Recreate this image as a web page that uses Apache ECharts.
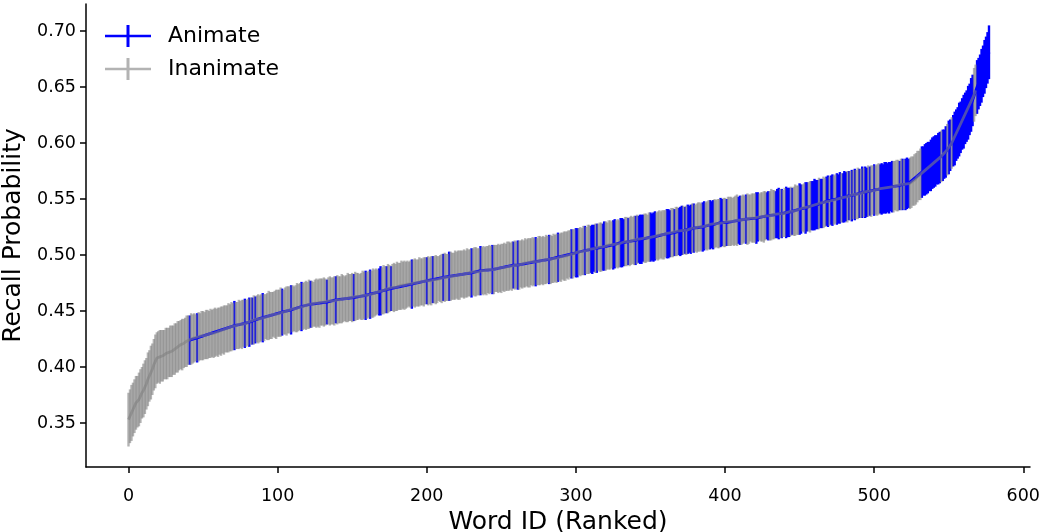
<!DOCTYPE html>
<html>
<head>
<meta charset="utf-8">
<script src="https://cdn.jsdelivr.net/npm/echarts@6/dist/echarts.min.js"></script>
<style>
  body { margin: 0; background: #fff; }
  #chart { width: 1050px; height: 532px; }
</style>
</head>
<body>
<div id="chart"></div>
<script>
  // mean recall probability per ranked word, in thousandths (rank 0..577)
  var recallMilli = [
    353,356,359,362,365,368,369,371,374,377,379,382,385,389,392,395,398,402,405,408,
    409,409,410,410,411,412,412,413,414,414,415,416,417,418,419,420,420,421,422,423,
    424,424,425,425,426,426,426,427,427,428,428,428,429,429,429,430,430,430,431,431,
    431,432,432,433,433,434,434,435,435,436,436,437,437,437,438,438,438,439,439,439,
    440,440,441,441,442,442,443,443,443,444,444,444,445,445,446,446,446,447,447,447,
    448,448,449,449,449,450,450,451,451,451,452,452,452,453,453,454,454,454,455,455,
    455,456,456,456,456,457,457,457,457,458,458,458,458,458,459,459,459,459,459,460,
    460,460,460,461,461,461,461,462,462,462,462,462,463,463,463,463,463,464,464,464,
    464,465,465,465,466,466,467,467,467,468,468,469,469,469,470,470,470,471,471,471,
    472,472,472,473,473,473,473,474,474,474,474,475,475,475,475,476,476,476,476,477,
    477,477,477,477,478,478,478,478,479,479,479,480,480,480,480,481,481,481,481,482,
    482,482,482,483,483,483,483,484,484,484,484,485,485,485,485,485,486,486,486,486,
    486,487,487,487,487,487,488,488,488,488,488,489,489,489,490,490,490,490,491,491,
    491,491,491,492,492,492,493,493,493,493,494,494,494,494,494,495,495,495,495,495,
    496,496,496,496,496,497,497,497,498,498,498,499,499,499,500,500,501,501,501,502,
    502,502,503,503,503,504,504,504,505,505,505,505,506,506,506,507,507,507,507,508,
    508,508,509,509,509,509,510,510,510,510,511,511,511,512,512,512,512,513,513,513,
    513,514,514,514,514,515,515,515,515,516,516,516,516,517,517,517,518,518,518,518,
    519,519,519,519,520,520,520,521,521,521,521,522,522,522,522,523,523,523,524,524,
    524,524,525,525,525,525,526,526,526,527,527,527,527,528,528,528,528,529,529,529,
    529,529,530,530,530,530,530,531,531,531,531,531,532,532,532,532,532,533,533,533,
    533,533,534,534,534,534,534,535,535,535,535,536,536,536,536,537,537,537,537,537,
    538,538,538,538,539,539,539,540,540,540,541,541,542,542,542,543,543,543,544,544,
    545,545,545,546,546,546,547,547,548,548,548,549,549,549,550,550,550,551,551,551,
    552,552,552,553,553,553,554,554,554,555,555,555,556,556,556,556,557,557,557,558,
    558,558,558,559,559,559,559,560,560,560,560,561,561,561,562,562,562,562,563,563,
    563,563,564,564,564,565,566,567,568,570,571,572,574,575,576,577,578,579,580,582,
    583,584,585,586,587,588,589,590,592,594,596,598,600,602,604,607,609,612,614,617,
    619,622,624,627,630,634,638,643,647,650,653,656,660,664,668,672,676,681
  ];

  // half length of each error bar, in thousandths
  var errMilli = [
    24,24,25,24,24,24,23,24,24,23,24,24,23,24,23,24,23,23,24,23,
    23,24,23,23,22,23,23,22,23,23,22,23,22,23,22,22,23,22,22,23,
    22,22,23,22,22,21,22,22,21,22,22,21,22,22,21,22,21,22,22,21,
    22,21,22,21,22,21,21,22,21,22,21,22,21,21,22,21,22,21,22,21,
    21,22,21,21,22,21,21,22,21,21,22,21,20,21,22,21,21,20,21,22,
    21,21,22,21,20,21,22,21,21,22,21,20,21,22,21,21,22,21,21,22,
    21,22,21,21,20,21,22,21,22,21,21,22,21,20,21,22,21,21,22,21,
    22,21,21,22,21,20,21,22,21,21,22,21,22,21,21,20,21,22,21,22,
    21,21,22,21,22,21,21,20,21,22,21,22,21,21,22,21,20,21,22,21,
    22,21,21,22,21,22,21,21,20,21,22,21,22,21,21,22,21,21,22,21,
    21,22,21,22,21,21,22,21,20,21,22,21,22,21,21,22,22,21,21,22,
    21,22,22,21,21,22,21,22,21,21,22,21,22,22,21,21,22,21,22,21,
    22,21,22,21,22,22,21,21,22,21,22,21,22,21,22,22,21,22,21,22,
    21,22,22,21,22,21,22,21,22,22,21,22,21,22,21,22,22,21,22,21,
    22,21,22,22,21,22,21,22,22,21,22,21,22,22,21,22,21,22,22,21,
    22,22,21,22,21,22,22,21,22,22,21,22,21,22,22,21,22,22,21,22,
    22,21,22,22,21,22,22,21,22,21,22,22,21,22,22,21,22,22,21,22,
    22,22,21,22,22,21,22,22,21,22,22,21,22,22,21,22,22,21,22,22,
    21,22,22,21,22,22,21,22,22,21,22,22,22,21,22,22,21,22,22,22,
    21,22,22,22,21,22,22,21,22,22,22,21,22,22,21,22,22,22,21,22,
    22,21,22,22,22,21,22,22,23,21,22,22,22,21,22,23,22,21,22,22,
    22,23,22,21,22,22,23,22,21,22,22,23,22,22,21,22,23,22,22,21,
    22,23,22,22,22,21,22,23,22,22,23,22,21,22,23,22,22,23,22,22,
    23,22,22,23,22,22,23,22,22,23,22,22,23,22,22,23,22,23,22,22,
    23,22,23,22,22,23,22,23,22,23,22,22,23,22,23,22,23,22,23,22,
    23,22,23,23,22,23,22,23,23,22,23,22,23,23,22,23,23,22,23,23,
    22,23,23,22,23,23,22,23,23,23,22,23,23,22,23,23,23,22,23,23,
    23,23,22,23,23,23,23,22,23,23,24,23,23,23,24,23,23,24,23,23,
    24,23,23,24,23,24,23,24,23,24,23,23,24,23,24,23,23,24
  ];

  // ranks of the animate words; every other rank is inanimate
  var animateRanks = [
    41,46,71,78,81,83,85,90,
    103,109,116,122,133,139,151,159,162,168,169,173,176,190,200,
    204,211,215,230,236,244,258,261,273,282,288,
    297,300,301,306,310,311,312,314,318,319,325,326,330,331,332,335,340,342,343,344,
    345,350,351,352,353,361,362,363,366,369,370,371,373,375,376,377,379,
    385,386,390,391,392,397,398,401,409,410,414,421,422,428,429,434,435,436,438,441,
    442,443,445,450,451,454,455,458,459,460,461,462,464,465,468,469,471,472,475,476,
    477,479,480,
    481,483,485,487,490,492,494,495,497,500,504,505,506,507,508,509,510,511,512,517,
    519,521,522,523,532,533,534,535,536,537,538,539,540,541,542,543,544,546,547,548,
    550,551,553,554,555,556,557,558,559,560,561,562,563,564,565,566,569,570,571,572,
    573,574,575,576,577
  ];

  var xTicks = [0, 100, 200, 300, 400, 500, 600];
  var yTicks = [0.35, 0.40, 0.45, 0.50, 0.55, 0.60, 0.65, 0.70];
  var groupNames = ['Animate', 'Inanimate'];

  var blue = '#0000ff';
  var grey = 'rgba(128,128,128,0.6)';
  var font = 'DejaVu Sans';

  var isAnimate = {};
  animateRanks.forEach(function (r) { isAnimate[r] = true; });

  var animPts = [], inanPts = [];
  recallMilli.forEach(function (m, i) {
    var row = [i, m / 1000, errMilli[i] / 1000];
    if (isAnimate[i]) animPts.push(row); else inanPts.push(row);
  });

  function barRenderer(color) {
    return function (params, api) {
      var x = api.value(0), m = api.value(1), e = api.value(2);
      var top = api.coord([x, m + e]);
      var bot = api.coord([x, m - e]);
      return {
        type: 'rect',
        shape: { x: top[0] - 1.2, y: top[1], width: 2.4, height: bot[1] - top[1] },
        style: { fill: color }
      };
    };
  }

  var myChart = echarts.init(document.getElementById('chart'));
  var option = {
    animation: false,
    grid: { left: 86, right: 20, top: 4, bottom: 65, containLabel: false, outerBoundsMode: 'none' },
    legend: {
      orient: 'vertical',
      left: 100,
      top: 20,
      itemWidth: 46,
      itemHeight: 22,
      itemGap: 11,
      textStyle: { fontFamily: font, fontSize: 22, color: '#000', padding: [0, 0, 0, 12], lineHeight: 22 },
      data: [
        { name: groupNames[0], icon: 'path://M0,9.75h46v2.5h-46z M21.5,0h3v22h-3z', itemStyle: { color: blue } },
        { name: groupNames[1], icon: 'path://M0,9.75h46v2.5h-46z M21.5,0h3v22h-3z', itemStyle: { color: '#b3b3b3' } }
      ]
    },
    xAxis: {
      type: 'value',
      min: -28.5,
      max: 604.5,
      name: 'Word ID (Ranked)',
      nameLocation: 'middle',
      nameGap: 39,
      nameTextStyle: { fontFamily: font, fontSize: 25, color: '#000' },
      splitLine: { show: false },
      axisLine: { show: true, onZero: false, lineStyle: { color: '#000', width: 1.5 } },
      axisTick: { show: true, length: 6, lineStyle: { color: '#000', width: 1.5 }, customValues: xTicks },
      axisLabel: { customValues: xTicks, fontFamily: font, fontSize: 17.5, color: '#000', margin: 20 }
    },
    yAxis: {
      type: 'value',
      min: 0.3107,
      max: 0.7241,
      name: 'Recall Probability',
      nameLocation: 'middle',
      nameGap: 51,
      nameTextStyle: { fontFamily: font, fontSize: 25, color: '#000' },
      splitLine: { show: false },
      axisLine: { show: true, onZero: false, lineStyle: { color: '#000', width: 1.5 } },
      axisTick: { show: true, length: 6, lineStyle: { color: '#000', width: 1.5 }, customValues: yTicks },
      axisLabel: {
        customValues: yTicks, fontFamily: font, fontSize: 17.5, color: '#000', margin: 10,
        formatter: function (v) { return v.toFixed(2); }
      }
    },
    series: [
      {
        name: groupNames[0], type: 'custom', z: 2, clip: true,
        renderItem: barRenderer(blue), data: animPts,
        encode: { x: 0, y: 1 }, itemStyle: { color: blue }
      },
      {
        name: groupNames[1], type: 'custom', z: 2, clip: true,
        renderItem: barRenderer(grey), data: inanPts,
        encode: { x: 0, y: 1 }, itemStyle: { color: '#b3b3b3' }
      },
      {
        name: groupNames[0], type: 'line', z: 3, symbol: 'none', silent: true,
        data: animPts.map(function (p) { return [p[0], p[1]]; }),
        lineStyle: { color: blue, width: 2.8 }, itemStyle: { color: blue }
      },
      {
        name: groupNames[1], type: 'line', z: 4, symbol: 'none', silent: true,
        data: inanPts.map(function (p) { return [p[0], p[1]]; }),
        lineStyle: { color: grey, width: 2.8 }, itemStyle: { color: '#b3b3b3' }
      }
    ]
  };
  myChart.setOption(option);
</script>
</body>
</html>
